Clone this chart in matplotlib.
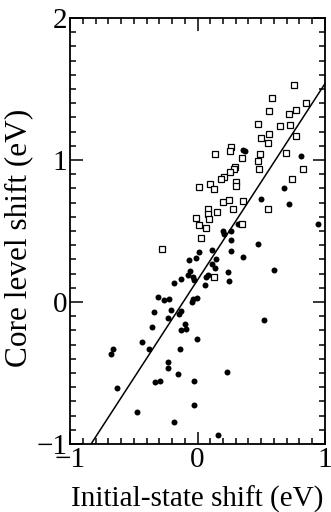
import numpy as np
from matplotlib import pyplot as plt

# open squares
sq_x = [0.754, 0.587, 0.853, 0.558, 0.775, 0.715, 0.477, 0.645, 0.725, 0.558,
        0.501, 0.775, 0.556, 0.265, 0.258, 0.140, 0.493, 0.697, 0.352, 0.475,
        0.485, 0.827, 0.744, 0.297, 0.284, 0.255, 0.205, 0.182, 0.009, 0.101,
        0.129, 0.299, 0.305, 0.197, 0.247, 0.357, 0.278, 0.550, 0.080, 0.080,
        0.156, -0.009, 0.090, 0.009, 0.064, 0.346, 0.027, -0.278, 0.127]
sq_y = [1.528, 1.439, 1.401, 1.343, 1.352, 1.322, 1.254, 1.239, 1.244, 1.183,
        1.153, 1.172, 1.118, 1.094, 1.061, 1.042, 1.042, 1.049, 1.012, 0.993,
        0.934, 0.934, 0.866, 0.949, 0.937, 0.913, 0.880, 0.869, 0.808, 0.834,
        0.798, 0.843, 0.815, 0.702, 0.716, 0.711, 0.655, 0.653, 0.655, 0.620,
        0.632, 0.594, 0.585, 0.545, 0.521, 0.549, 0.451, 0.373, 0.174]

# filled circles
dot_x = [0.357, 0.372, 0.814, 0.678, 0.720, 0.945, 0.496, 0.320, 0.203, 0.205,
         0.263, 0.265, 0.260, 0.475, 0.354, 0.600, 0.116, 0.009, -0.009, -0.067,
         0.145, 0.111, 0.137, -0.056, -0.075, -0.038, -0.027, 0.085, 0.064, 0.237,
         0.245, 0.056, -0.129, -0.182, -0.312, -0.265, -0.221, -0.046, -0.033, -0.006,
         -0.339, -0.208, -0.231, -0.145, -0.129, -0.354, -0.132, -0.098, -0.093, -0.438,
         -0.378, -0.002, -0.140, 0.522, -0.660, -0.676, -0.234, -0.234, -0.151, 0.231,
         -0.336, -0.297, -0.027, -0.629, -0.030, -0.475, -0.184, 0.158]
dot_y = [1.073, 1.064, 1.026, 0.805, 0.690, 0.549, 0.728, 0.547, 0.498, 0.477,
         0.498, 0.439, 0.362, 0.406, 0.315, 0.225, 0.364, 0.350, 0.308, 0.294,
         0.301, 0.270, 0.242, 0.218, 0.193, 0.174, 0.153, 0.193, 0.176, 0.209,
         0.146, 0.118, 0.162, 0.134, 0.035, 0.012, 0.024, 0.000, 0.019, 0.028,
         -0.073, -0.054, -0.115, -0.082, -0.063, -0.178, -0.199, -0.157, -0.190, -0.284,
         -0.333, -0.261, -0.331, -0.129, -0.331, -0.366, -0.425, -0.465, -0.507, -0.495,
         -0.563, -0.556, -0.554, -0.606, -0.723, -0.772, -0.843, -0.937]

# fitted line end points
fit_x = [-0.835, 1.0]
fit_y = [-1.0, 1.538]

plt.rcParams['font.family'] = ['Liberation Serif', 'DejaVu Serif']

fig = plt.figure(figsize=(3.31, 5.12), dpi=100)
ax = fig.add_axes([70 / 331, 68 / 512, 255 / 331, 426 / 512])

ax.plot(fit_x, fit_y, color='black', linewidth=1.1)
ax.plot(dot_x, dot_y, 'o', color='black', markersize=4.3, markeredgewidth=0)
ax.plot(sq_x, sq_y, 's', markerfacecolor='white', markeredgecolor='black',
        markersize=3.8, markeredgewidth=0.9)

ax.set_xlim(-1, 1)
ax.set_ylim(-1, 2)
ax.set_xticks([-1, 0, 1])
ax.set_yticks([-1, 0, 1, 2])
ax.set_xticks(np.arange(-1, 1.01, 0.1), minor=True)
ax.set_yticks(np.arange(-1, 2.01, 0.1), minor=True)

ax.tick_params(which='both', direction='in', top=True, right=True, width=1.1,
               labelsize=21, pad=2)
ax.tick_params(which='major', length=9)
ax.tick_params(which='minor', length=4.5)
for sp in ax.spines.values():
    sp.set_linewidth(1.3)

ax.set_xlabel('Initial-state shift (eV)', fontsize=21, labelpad=9)
ax.set_ylabel('Core level shift (eV)', fontsize=22.5)
ax.yaxis.set_label_coords(-0.145, 0.485)

fig.savefig('out.png', dpi=100)
